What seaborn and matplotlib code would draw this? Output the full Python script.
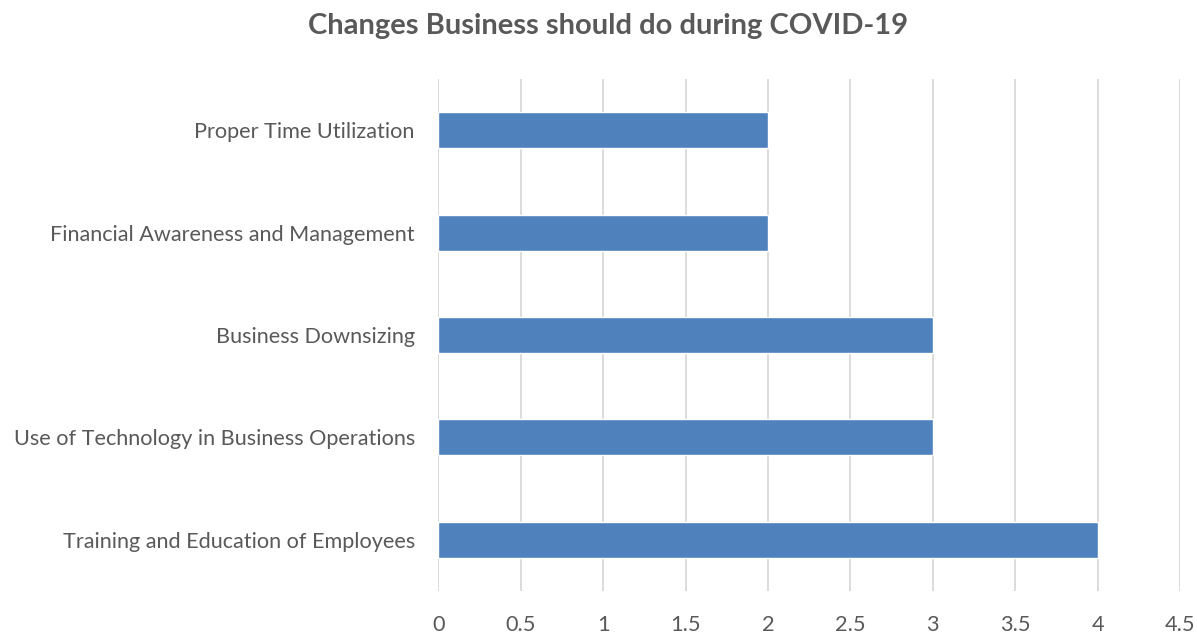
import matplotlib
matplotlib.use("Agg")
import matplotlib.pyplot as plt
import seaborn as sns
import pandas as pd
import numpy as np

# Survey responses: changes businesses should make during COVID-19
categories = [
    "Proper Time Utilization",
    "Financial Awareness and Management",
    "Business Downsizing",
    "Use of Technology in Business Operations",
    "Training and Education of Employees",
]
counts = [2, 2, 3, 3, 4]
x_ticks = [0, 0.5, 1, 1.5, 2, 2.5, 3, 3.5, 4, 4.5]
x_tick_labels = ["0", "0.5", "1", "1.5", "2", "2.5", "3", "3.5", "4", "4.5"]

df = pd.DataFrame({"change": categories, "count": counts})

sns.set_style("white")
plt.rcParams["font.family"] = ["Lato", "DejaVu Sans"]

text_color = "#595959"
grid_color = "#D9D9D9"
bar_color = "#4F81BD"

fig = plt.figure(figsize=(11.97, 6.33), dpi=100)
ax = fig.add_axes([0.3663, 0.0664, 0.9858 - 0.3663, 0.8752 - 0.0664])

sns.barplot(data=df, x="count", y="change", order=categories, orient="h",
            color=bar_color, saturation=1, width=0.35, ax=ax, zorder=3)

ax.set_xlim(0, 4.5)
ax.set_xticks(x_ticks)
ax.set_xticklabels(x_tick_labels)
ax.xaxis.grid(True, color=grid_color, linewidth=1.3, zorder=0)
ax.yaxis.grid(False)
ax.set_axisbelow(True)
for s in ax.spines.values():
    s.set_visible(False)

ax.set_xlabel("")
ax.set_ylabel("")
ax.tick_params(axis="x", length=0, pad=17, labelsize=15.7, colors=text_color)
ax.tick_params(axis="y", length=0, pad=17, labelsize=15.6, colors=text_color)

fig.suptitle("Changes Business should do during COVID-19", x=0.508, y=0.98,
             fontsize=21, fontweight="bold", color=text_color)

fig.savefig("out.png", dpi=100, facecolor="white")
